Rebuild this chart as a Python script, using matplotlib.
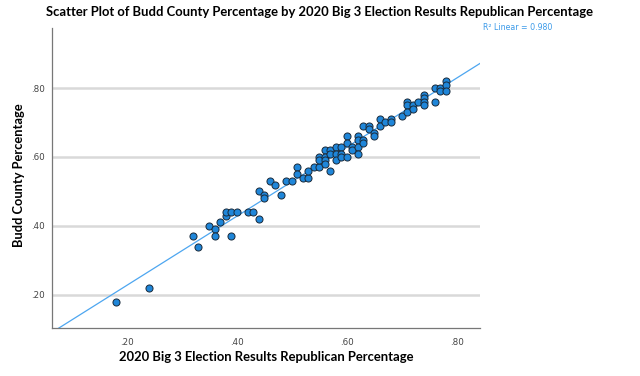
import numpy as np
import matplotlib
matplotlib.use("Agg")
import matplotlib.pyplot as plt

rep_pct = [0.18, 0.24, 0.32, 0.33, 0.35, 0.36, 0.36, 0.37, 0.38, 0.38, 0.39, 0.39,
           0.40, 0.42, 0.43, 0.44, 0.44, 0.45, 0.45, 0.46, 0.47, 0.48, 0.49, 0.50,
           0.51, 0.51, 0.52, 0.53, 0.53, 0.54, 0.55, 0.55, 0.55,
           0.56, 0.56, 0.56, 0.56, 0.57, 0.57, 0.57,
           0.58, 0.58, 0.58, 0.59, 0.59, 0.59, 0.60, 0.60, 0.60,
           0.61, 0.61, 0.62, 0.62, 0.62, 0.62, 0.63, 0.63, 0.63, 0.64, 0.64,
           0.65, 0.65, 0.66, 0.66, 0.67, 0.68, 0.68, 0.70,
           0.71, 0.71, 0.71, 0.72, 0.72, 0.73, 0.74, 0.74, 0.74, 0.74,
           0.76, 0.76, 0.77, 0.77, 0.78, 0.78, 0.78]
budd_pct = [0.18, 0.22, 0.37, 0.34, 0.40, 0.39, 0.37, 0.41, 0.43, 0.44, 0.44, 0.37,
            0.44, 0.44, 0.44, 0.50, 0.42, 0.49, 0.48, 0.53, 0.52, 0.49, 0.53, 0.53,
            0.57, 0.55, 0.54, 0.54, 0.56, 0.57, 0.57, 0.60, 0.59,
            0.62, 0.60, 0.59, 0.58, 0.62, 0.61, 0.56,
            0.63, 0.61, 0.59, 0.63, 0.61, 0.60, 0.66, 0.64, 0.60,
            0.63, 0.62, 0.66, 0.65, 0.63, 0.61, 0.65, 0.64, 0.69, 0.69, 0.68,
            0.67, 0.66, 0.71, 0.69, 0.70, 0.71, 0.70, 0.72,
            0.76, 0.75, 0.73, 0.75, 0.74, 0.76, 0.78, 0.77, 0.76, 0.75,
            0.80, 0.76, 0.80, 0.79, 0.82, 0.81, 0.79]

x_ticks = [0.20, 0.40, 0.60, 0.80]
y_ticks = [0.20, 0.40, 0.60, 0.80]
tick_labels = [".20", ".40", ".60", ".80"]
r2_label = "R\u00b2 Linear = 0.980"

BOLD_FONT = ["Lato", "DejaVu Sans"]
SMALL_FONT = ["DejaVu Sans"]

fig = plt.figure(figsize=(6.4, 3.76), dpi=100)
ax = fig.add_axes([52/640, 1-328/376, (480-52)/640, (328-28)/376])

xlim = (0.064, 0.842)
ylim = (0.104, 0.974)
ax.set_xlim(*xlim)
ax.set_ylim(*ylim)

for yt in y_ticks:
    ax.axhline(yt, color="#d9d9d9", lw=1.8, zorder=0)

x = np.array(rep_pct)
y = np.array(budd_pct)
slope, intercept = np.polyfit(x, y, 1)
xx = np.array(xlim)
ax.plot(xx, slope*xx + intercept, color="#4da6f0", lw=0.9, zorder=2)

ax.scatter(x, y, s=26, facecolor="#1f86d9", edgecolor="#1a2a3a", linewidth=0.7, zorder=3)

ax.set_xticks(x_ticks)
ax.set_xticklabels(tick_labels, family=SMALL_FONT)
ax.set_yticks(y_ticks)
ax.set_yticklabels(tick_labels, family=SMALL_FONT)
ax.tick_params(length=0, labelsize=6.3, colors="#444444")
ax.tick_params(axis="y", pad=5)
ax.tick_params(axis="x", pad=7)
for s in ["top", "right"]:
    ax.spines[s].set_visible(False)
for s in ["left", "bottom"]:
    ax.spines[s].set_color("#777777")
    ax.spines[s].set_linewidth(0.9)

renderer = fig.canvas.get_renderer()

def fit(t, target, vertical=False):
    fig.canvas.draw()
    bb = t.get_window_extent(renderer)
    cur = bb.height if vertical else bb.width
    t.set_fontsize(t.get_fontsize() * target / cur)

title = fig.text(320/640, 1-12/376, "Scatter Plot of Budd County Percentage by 2020 Big 3 Election Results Republican Percentage",
                 ha="center", va="center", fontsize=10, fontweight="bold", family=BOLD_FONT)
fit(title, 548)
xl = fig.text(266/640, 1-357/376, "2020 Big 3 Election Results Republican Percentage",
              ha="center", va="center", fontsize=10, fontweight="bold", family=BOLD_FONT)
fit(xl, 295)
yl = fig.text(19/640, 1-175/376, "Budd County Percentage", rotation=90,
              ha="center", va="center", fontsize=10, fontweight="bold", family=BOLD_FONT)
fit(yl, 144, vertical=True)
r2t = fig.text(483/640, 1-28/376, r2_label, ha="left", va="center",
               fontsize=6, color="#3d9be9", family=SMALL_FONT)
fit(r2t, 70)

fig.savefig("out.png", dpi=100)
